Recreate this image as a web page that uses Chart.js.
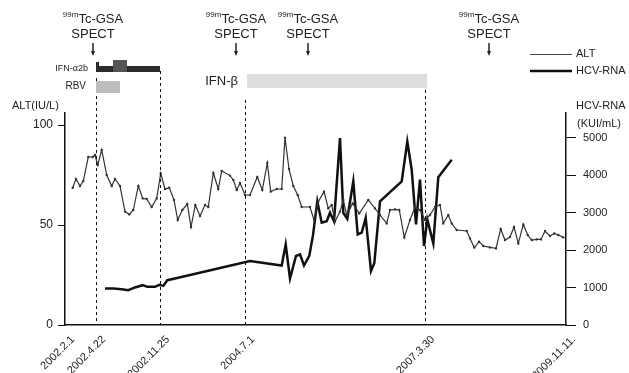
<!DOCTYPE html>
<html>
<head>
<meta charset="utf-8">
<script src="https://cdn.jsdelivr.net/npm/chart.js@4.4.1/dist/chart.umd.min.js"></script>
<style>
  html, body { margin: 0; padding: 0; background: #fff; }
  canvas { display: block; }
</style>
</head>
<body>
<canvas id="chart" width="629" height="373"></canvas>
<script>
// ===== DATA =====
// x is a position along the time axis (visit order, not calendar-linear)
const dateTickPos = [0, 31, 95, 180, 360, 501];
const dateTickLabels = ['2002.2.1', '2002.4.22', '2002.11.25', '2004.7.1', '2007.3.30', '2009.11.11.'];

const altPos = [7.7, 11, 15, 18.3, 23.3, 27.7, 30, 32.7, 36.7, 41.7, 46.7, 50, 55, 60, 64.3, 68.3, 73.3, 77.7, 81.7, 86.7,
  91.7, 95.7, 100, 104.3, 109, 112.7, 117.3, 122.3, 126, 130.3, 135, 140, 143.3, 148.3, 153.3, 156.7, 165, 168.3, 171.7, 175,
  180, 185, 192.3, 197.3, 202.3, 205.7, 211.7, 216.7, 220, 224, 228.3, 232.7, 236.7, 245, 249, 253.3, 259, 263.3, 266.7, 270,
  275, 278.3, 281.7, 287.7, 294.3, 303.3, 310, 315, 321.7, 325, 330, 334.3, 339.3, 345, 350, 355, 360, 365, 370, 375,
  378.3, 383.3, 386.7, 391.7, 401.7, 405, 409.3, 414, 418.3, 425, 431, 435.7, 440, 445, 449, 453.3, 458.3, 462.7, 466.7, 471.7,
  476, 480, 485, 489.3, 493.3, 498.3];
const altVal = [68.6, 73, 69.5, 72, 84, 84, 85, 80, 87.5, 75, 69.5, 73, 69.5, 56.7, 55.3, 57.5, 69.5, 63.3, 63, 59,
  63.3, 75.8, 68, 68.6, 62.5, 52.5, 57.5, 60.5, 49, 60, 54.5, 60, 59, 76, 68, 77, 74.7, 72.5, 67.5, 71,
  65, 65, 74, 67.5, 81, 66.7, 68, 68, 93.7, 78, 69.5, 65, 59, 59, 52.5, 61.7, 66.7, 58.3, 60, 51.7,
  56.7, 62.5, 55, 60.8, 55.8, 62.5, 58.3, 55, 50.8, 57.5, 57.8, 57.5, 43.8, 52.5, 59, 57.5, 52.5, 55, 59, 60,
  50.8, 55, 50.8, 47.5, 47, 43.3, 38.7, 41.7, 39.5, 38.8, 38.3, 48, 42.5, 44, 49, 40.8, 50.3, 45, 42.5, 42.8,
  42.8, 47, 44.5, 45.8, 45, 43.8];

const hcvPos = [40, 48.3, 56.7, 63.3, 70, 77.7, 82.3, 90, 94.3, 98.3, 102.3, 110, 185, 216.7, 220.7, 225, 231, 235, 239, 244.3,
  248, 252.3, 256.7, 261.7, 265, 269, 275, 278.3, 282.3, 288.3, 292.7, 296.7, 300.7, 306, 309.3, 315, 336.7, 342.3, 346.7, 351,
  355, 359, 362.3, 368.3, 373.3, 386.7];
const hcvVal = [976, 976, 958, 931, 1003, 1064, 1019, 1019, 1072, 1045, 1197, 1242, 1711, 1590, 2150, 1242, 1844, 1889, 1590, 1850,
  2400, 3306, 2732, 2774, 3000, 2774, 4993, 3000, 2838, 3838, 2420, 2466, 2865, 1444, 1649, 3306, 3838, 4902, 4150, 2687,
  3884, 2110, 2820, 2181, 3950, 4416];

const leftTicks = [0, 50, 100];
const rightTicks = [0, 1000, 2000, 3000, 4000, 5000];

// treatments and examinations (positions on the time axis)
const spectPos = [28, 171, 243, 424];
const ifnA2b = [31, 95];
const ifnA2bBump = [48, 62];
const rbv = [31, 55];
const ifnBeta = [182, 362];
const changePos = [31, 95, 180, 360];

const FONT = '"Liberation Sans", Arial, sans-serif';
const INK = '#222';

// ===== ANNOTATION PLUGIN =====
const annotations = {
  id: 'annotations',
  afterDraw(chart) {
    const ctx = chart.ctx;
    const xs = chart.scales.x;
    const area = chart.chartArea;
    const px = v => xs.getPixelForValue(v);
    ctx.save();

    // dashed change lines
    const tops = [78, 71, 100, 84];
    ctx.strokeStyle = '#111';
    ctx.lineWidth = 1;
    ctx.setLineDash([3, 3]);
    changePos.forEach((p, i) => {
      const x = Math.round(px(p)) + 0.5;
      ctx.beginPath();
      ctx.moveTo(x, tops[i]);
      ctx.lineTo(x, area.bottom);
      ctx.stroke();
    });
    ctx.setLineDash([]);

    // SPECT labels + arrows
    ctx.fillStyle = INK;
    ctx.textBaseline = 'middle';
    spectPos.forEach(p => {
      const cx = px(p);
      ctx.font = '8px ' + FONT;
      const w1 = ctx.measureText('99m').width;
      ctx.font = '13px ' + FONT;
      const w2 = ctx.measureText('Tc-GSA').width;
      const sx = cx - (w1 + w2) / 2;
      ctx.textAlign = 'left';
      ctx.font = '8px ' + FONT;
      ctx.fillText('99m', sx, 15);
      ctx.font = '13px ' + FONT;
      ctx.fillText('Tc-GSA', sx + w1, 19);
      ctx.textAlign = 'center';
      ctx.fillText('SPECT', cx, 34);
      ctx.strokeStyle = INK;
      ctx.lineWidth = 1.5;
      ctx.beginPath();
      ctx.moveTo(cx, 43);
      ctx.lineTo(cx, 54);
      ctx.stroke();
      ctx.beginPath();
      ctx.moveTo(cx - 2, 51);
      ctx.lineTo(cx, 56);
      ctx.lineTo(cx + 2, 51);
      ctx.fill();
    });

    // IFN-alpha2b bar
    const a0 = px(ifnA2b[0]), a1 = px(ifnA2b[1]);
    ctx.fillStyle = '#2a2a2a';
    ctx.fillRect(a0, 66, a1 - a0, 6);
    ctx.fillRect(a0, 62, 3, 10);
    ctx.fillStyle = '#555';
    ctx.fillRect(px(ifnA2bBump[0]), 60, px(ifnA2bBump[1]) - px(ifnA2bBump[0]), 12);
    // RBV bar
    ctx.fillStyle = '#bdbdbd';
    ctx.fillRect(px(rbv[0]), 81, px(rbv[1]) - px(rbv[0]), 12);
    // IFN-beta bar
    ctx.fillStyle = '#dedede';
    ctx.fillRect(px(ifnBeta[0]), 74, px(ifnBeta[1]) - px(ifnBeta[0]), 14);

    ctx.fillStyle = INK;
    ctx.textAlign = 'right';
    ctx.font = '9px ' + FONT;
    ctx.fillText('IFN-\u03b12b', 88, 69);
    ctx.font = '10px ' + FONT;
    ctx.fillText('RBV', 86, 86);
    ctx.font = '13px ' + FONT;
    ctx.fillText('IFN-\u03b2', 238, 81);

    // axis titles
    ctx.textAlign = 'left';
    ctx.font = '11px ' + FONT;
    ctx.fillText('ALT(IU/L)', 12, 106);
    ctx.fillText('HCV-RNA', 576, 106);
    ctx.fillText('(KUI/mL)', 577, 124);

    // legend
    ctx.strokeStyle = '#444';
    ctx.lineWidth = 1;
    ctx.beginPath(); ctx.moveTo(530, 54.5); ctx.lineTo(572, 54.5); ctx.stroke();
    ctx.strokeStyle = '#111';
    ctx.lineWidth = 2.5;
    ctx.beginPath(); ctx.moveTo(530, 71); ctx.lineTo(572, 71); ctx.stroke();
    ctx.fillText('ALT', 576, 54);
    ctx.fillText('HCV-RNA', 576, 71);

    ctx.restore();
  }
};

// ===== CHART =====
new Chart(document.getElementById('chart'), {
  type: 'line',
  data: {
    datasets: [
      {
        label: 'ALT',
        data: altPos.map((x, i) => ({ x, y: altVal[i] })),
        yAxisID: 'y',
        borderColor: '#333',
        backgroundColor: '#333',
        borderWidth: 1.2,
        pointRadius: 0.6,
        tension: 0
      },
      {
        label: 'HCV-RNA',
        data: hcvPos.map((x, i) => ({ x, y: hcvVal[i] })),
        yAxisID: 'y1',
        borderColor: '#111',
        backgroundColor: '#111',
        borderWidth: 2.5,
        pointRadius: 0,
        tension: 0
      }
    ]
  },
  options: {
    responsive: false,
    animation: false,
    devicePixelRatio: 1,
    layout: { padding: { top: 113, left: 0, right: 0, bottom: 0 } },
    plugins: { legend: { display: false }, tooltip: { enabled: false } },
    scales: {
      x: {
        type: 'linear', min: 0, max: 501,
        grid: { display: false },
        border: { display: true, color: '#111', width: 1.5 },
        afterBuildTicks: s => { s.ticks = dateTickPos.map(v => ({ value: v })); },
        afterFit: s => { s.height = 48; },
        ticks: {
          autoSkip: false, minRotation: 45, maxRotation: 45, padding: 0, labelOffset: 8,
          color: INK, font: { family: FONT, size: 11 },
          callback: v => dateTickLabels[dateTickPos.indexOf(v)]
        }
      },
      y: {
        position: 'left', min: 0, max: 106,
        grid: { drawOnChartArea: false, drawTicks: true, tickLength: 7, color: '#111' },
        border: { display: true, color: '#111', width: 1.5 },
        afterBuildTicks: s => { s.ticks = leftTicks.map(v => ({ value: v })); },
        afterFit: s => { s.width = 65; },
        ticks: { color: INK, padding: 5, font: { family: FONT, size: 12 }, callback: v => String(v) }
      },
      y1: {
        position: 'right', min: 0, max: 5665,
        grid: { drawOnChartArea: false, drawTicks: true, tickLength: 10, color: '#111' },
        border: { display: true, color: '#111', width: 1.5 },
        afterBuildTicks: s => { s.ticks = rightTicks.map(v => ({ value: v })); },
        afterFit: s => { s.width = 63; },
        ticks: { color: INK, padding: 7, font: { family: FONT, size: 11 }, callback: v => String(v) }
      }
    }
  },
  plugins: [annotations]
});
</script>
</body>
</html>
